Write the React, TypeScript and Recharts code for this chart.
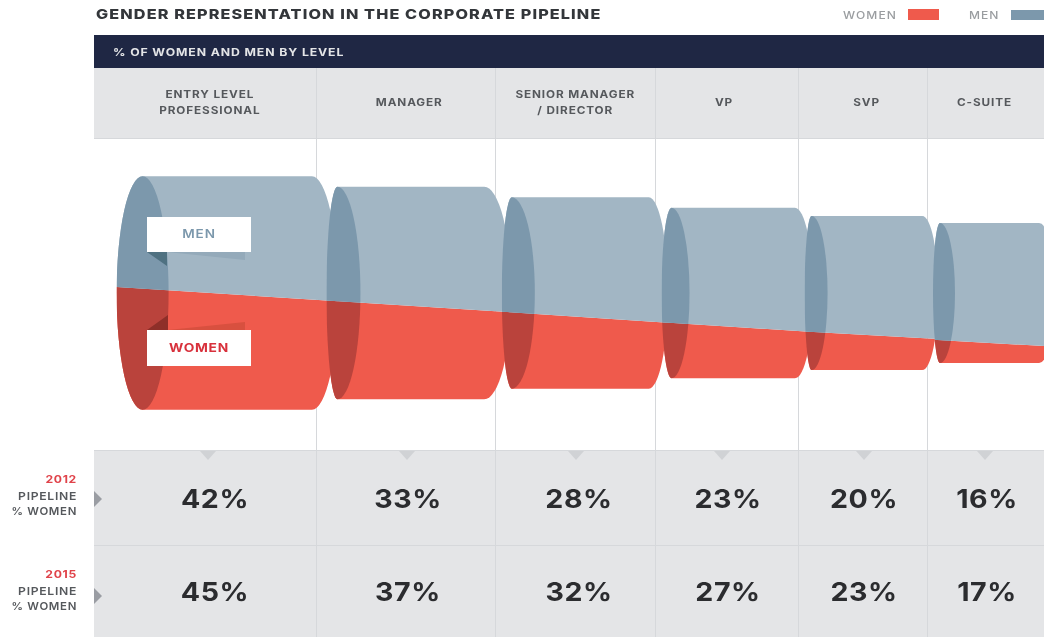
import React from "react";
import { ComposedChart, Bar, XAxis, YAxis } from "recharts";

const levelLabels = [
  ["ENTRY LEVEL", "PROFESSIONAL"],
  ["MANAGER"],
  ["SENIOR MANAGER", "/ DIRECTOR"],
  ["VP"],
  ["SVP"],
  ["C-SUITE"],
];
const pipeline2012 = [42, 33, 28, 23, 20, 16];
const pipeline2015 = [45, 37, 32, 27, 23, 17];

// Funnel sections: extent along the pipeline (0-100 across the chart)
const sectionStart = [11.2, 31.3, 48.1, 63.4, 77.1, 89.4];
const sectionEnd = [32.4, 49.0, 64.0, 77.9, 89.9, 101.1];
// Stream thickness at each end of each section (entry level total = 100)
const sectionOffset = [16, 20.5, 25, 29.5, 33, 36];
const womenAtStart = [52.6, 42.3, 33, 24, 16.5, 10];
const menAtStart = [47.4, 48.7, 49, 49, 49.5, 50];
const womenAtEnd = [46.5, 37.3, 28.3, 19.8, 13.3, 7];
const menAtEnd = [53.5, 53.7, 53.7, 53.2, 52.7, 53];
// Where the level names sit on the pipeline axis
const labelPositions = [20.1, 39.2, 55.1, 69.35, 83, 94.3];

const W = 1044;
const H = 637;
const PLOT_TOP = 139;
const PLOT_BOTTOM = 447;
const Y_MAX = 132;
const PX_X = W / 100;
const PX_Y = (PLOT_BOTTOM - PLOT_TOP) / Y_MAX;

const capLeft = [26, 11, 10, 10, 7, 7];
const capRight = [26, 23, 23, 18, 16, 15];
const endRadius = [26, 27, 19, 18, 16, 16];
const columnRules = [316, 495, 655, 798, 927];
const columnMarks = [208, 407, 576, 722, 864, 985];
const valueCenters = [214.5, 407.5, 578.5, 727.5, 863.5, 986.5];

const FONT = "Inter, 'Noto Sans', sans-serif";
const RED = "#EF5A4C";
const RED_DARK = "#BA433C";
const BLUE = "#A2B6C4";
const BLUE_DARK = "#7C98AC";
const GREY = "#E4E5E7";
const RULE = "#D6D8DB";

const rows = levelLabels.map((l, i) => ({
  level: l.join(" "),
  center: (sectionStart[i] + sectionEnd[i]) / 2,
  offset: sectionOffset[i],
  women: womenAtStart[i],
  men: menAtStart[i],
  womenEnd: womenAtEnd[i],
  menEnd: menAtEnd[i],
  span: sectionEnd[i] - sectionStart[i],
}));

function Section({ p, top, bot, dL, dR, i, kind }: any) {
  const mid = p.x + p.width / 2;
  const half = (p.payload.span / 2) * PX_X;
  const xS = mid - half;
  const xE = mid + half;
  const rL = capLeft[i];
  const rR = capRight[i];
  const b = endRadius[i];
  const ry = (bot - top) / 2;
  const xc = xS + rL;
  const id = `${kind}-clip-${i}`;
  const poly =
    kind === "men"
      ? `${xS},${top - 1} ${xE},${top - 1} ${xE},${dR} ${xS},${dL}`
      : `${xS},${dL} ${xE},${dR} ${xE},${bot + 1} ${xS},${bot + 1}`;
  const d = `M${xc} ${top}L${xE - b} ${top}A${b} ${ry} 0 0 1 ${xE - b} ${bot}L${xc} ${bot}A${rL} ${ry} 0 0 1 ${xc} ${top}Z`;
  const cap = `M${xc} ${top}A${rL} ${ry} 0 0 0 ${xc} ${bot}A${rR} ${ry} 0 0 0 ${xc} ${top}Z`;
  return (
    <g>
      <clipPath id={id}>
        <polygon points={poly} />
      </clipPath>
      <g clipPath={`url(#${id})`}>
        <path d={d} fill={kind === "men" ? BLUE : RED} />
        <path d={cap} fill={kind === "men" ? BLUE_DARK : RED_DARK} />
      </g>
    </g>
  );
}

const MenShape = (p: any) => {
  const top = p.y;
  const dL = p.y + p.height;
  const bot = top + (p.payload.men + p.payload.women) * PX_Y;
  const dR = top + p.payload.menEnd * PX_Y;
  return <Section p={p} top={top} bot={bot} dL={dL} dR={dR} i={p.index} kind="men" />;
};

const WomenShape = (p: any) => {
  const bot = p.y + p.height;
  const top = bot - (p.payload.men + p.payload.women) * PX_Y;
  const dR = bot - p.payload.womenEnd * PX_Y;
  return <Section p={p} top={top} bot={bot} dL={p.y} dR={dR} i={p.index} kind="women" />;
};

const LevelTick = (p: any) => {
  const lines = levelLabels[p.index] || [];
  const y0 = lines.length > 1 ? 98 : 106;
  return (
    <g>
      {lines.map((t, k) => (
        <text key={k} transform={`translate(${p.x},${y0 + k * 16}) scale(1.12,1)`} textAnchor="middle" fontFamily={FONT} fontSize={10.5} fontWeight={700} letterSpacing={0.8} fill="#55585C">
          {t}
        </text>
      ))}
    </g>
  );
};

const abs = (left: number, top: number, width: number, height: number, background: string): React.CSSProperties => ({
  position: "absolute",
  left,
  top,
  width,
  height,
  background,
});

function Txt({ x, y, align, size, weight, color, spacing, sx = 1, children }: any) {
  const tr = align === "center" ? "translate(-50%,-50%)" : align === "right" ? "translate(-100%,-50%)" : "translateY(-50%)";
  const origin = align === "center" ? "center center" : align === "right" ? "right center" : "left center";
  return (
    <div style={{ position: "absolute", left: x, top: y, transform: `${tr} scaleX(${sx})`, transformOrigin: origin, fontFamily: FONT, fontSize: size, fontWeight: weight, color, letterSpacing: spacing, whiteSpace: "nowrap", lineHeight: 1 }}>
      {children}
    </div>
  );
}

function RowLabel({ y, year }: any) {
  return (
    <>
      <Txt x={77} y={y} align="right" size={10.5} weight={700} color="#E0434A" spacing={0.6} sx={1.16}>{year}</Txt>
      <Txt x={77} y={y + 16.5} align="right" size={10.5} weight={600} color="#55585C" spacing={0.6} sx={1.16}>PIPELINE</Txt>
      <Txt x={77} y={y + 32} align="right" size={10.5} weight={600} color="#55585C" spacing={0.6} sx={1.09}>% WOMEN</Txt>
    </>
  );
}

export default function App() {
  return (
    <div style={{ position: "absolute", left: 0, top: 0, width: W, height: H, overflow: "hidden", background: "#fff", filter: "blur(0.45px)" }}>
      <Txt x={96} y={14.5} size={13.5} weight={800} color="#33363A" spacing={0.93} sx={1.2}>GENDER REPRESENTATION IN THE CORPORATE PIPELINE</Txt>
      <Txt x={843} y={15.5} size={10.5} weight={500} color="#9A9DA0" spacing={0.9} sx={1.15}>WOMEN</Txt>
      <div style={abs(908, 9, 31, 11, RED)} />
      <Txt x={969} y={15.5} size={10.5} weight={500} color="#9A9DA0" spacing={0.9} sx={1.15}>MEN</Txt>
      <div style={abs(1011, 10, 33, 10, BLUE_DARK)} />

      <div style={abs(94, 35, 950, 33, "#1F2744")} />
      <Txt x={113} y={52.5} size={10.5} weight={700} color="#E4E5E7" spacing={0.75} sx={1.17}>% OF WOMEN AND MEN BY LEVEL</Txt>
      <div style={abs(94, 68, 950, 70, GREY)} />
      <div style={abs(94, 138, 950, 1, RULE)} />
      <div style={abs(94, 450, 950, 187, GREY)} />
      <div style={abs(94, 450, 950, 1, RULE)} />
      <div style={abs(94, 545, 950, 1, RULE)} />
      {columnRules.map((x) => (
        <div key={x} style={abs(x, 68, 1, 569, RULE)} />
      ))}

      <svg width={W} height={H} style={{ position: "absolute", left: 0, top: 0 }}>
        {columnMarks.map((x) => (
          <polygon key={x} points={`${x - 8},451 ${x + 8},451 ${x},460`} fill="#D0D2D5" />
        ))}
        <polygon points="94,491 102,499 94,507" fill="#9A9DA3" />
        <polygon points="94,588 102,596 94,604" fill="#9A9DA3" />
      </svg>

      {pipeline2012.map((v, i) => (
        <Txt key={i} x={valueCenters[i]} y={499} align="center" size={26} weight={700} color="#2B2C2F" spacing={0.5} sx={1.1}>{v}%</Txt>
      ))}
      {pipeline2015.map((v, i) => (
        <Txt key={i} x={valueCenters[i]} y={592} align="center" size={26} weight={700} color="#2B2C2F" spacing={0.5} sx={1.1}>{v}%</Txt>
      ))}
      <RowLabel y={480} year="2012" />
      <RowLabel y={575} year="2015" />

      <div style={{ position: "absolute", left: 0, top: 0 }}>
        <ComposedChart width={W} height={H} data={rows} margin={{ top: 67, right: 0, bottom: H - PLOT_BOTTOM, left: 0 }}>
          <XAxis
            xAxisId={0}
            type="number"
            dataKey="center"
            orientation="top"
            domain={[0, 100]}
            ticks={labelPositions}
            interval={0}
            height={72}
            axisLine={false}
            tickLine={false}
            tick={LevelTick}
          />
          <YAxis type="number" domain={[0, Y_MAX]} hide />
          <Bar dataKey="offset" stackId="p" fill="none" barSize={2} isAnimationActive={false} />
          <Bar dataKey="women" name="Women" stackId="p" barSize={2} isAnimationActive={false} shape={WomenShape} />
          <Bar dataKey="men" name="Men" stackId="p" barSize={2} isAnimationActive={false} shape={MenShape} />
        </ComposedChart>
      </div>

      <svg width={W} height={H} style={{ position: "absolute", left: 0, top: 0, pointerEvents: "none" }}>
        <polygon points="167,252 245,252 245,260" fill="#94AABA" />
        <polygon points="147,252 167,252 167,266" fill="#4F7181" />
        <rect x={147} y={217} width={104} height={35} fill="#fff" />
        <polygon points="168,330 245,322 245,330" fill="#D8503F" />
        <polygon points="147,330 168,315 168,330" fill="#8E2F29" />
        <rect x={147} y={330} width={104} height={36} fill="#fff" />
        <text transform="translate(199,238) scale(1.13,1)" textAnchor="middle" fontFamily={FONT} fontSize={12} fontWeight={600} letterSpacing={0.8} fill="#7C98AC">MEN</text>
        <text transform="translate(199,352) scale(1.15,1)" textAnchor="middle" fontFamily={FONT} fontSize={12} fontWeight={700} letterSpacing={0.6} fill="#D8313C">WOMEN</text>
      </svg>
    </div>
  );
}
